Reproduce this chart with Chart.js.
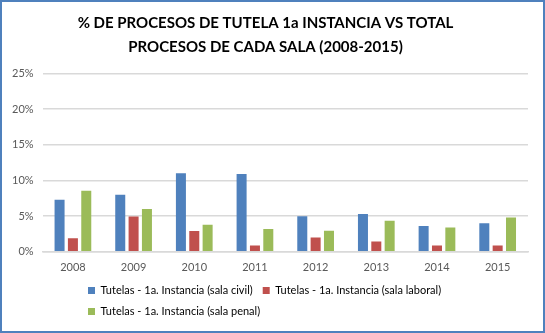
<!DOCTYPE html>
<html>
<head>
<meta charset="utf-8">
<script src="https://cdn.jsdelivr.net/npm/chart.js@4"></script>
<style>
  html, body { margin: 0; padding: 0; background: #fff; }
  #wrap { width: 545px; height: 333px; box-sizing: border-box; border: 2px solid #4F81BD; }
  canvas { display: block; }
</style>
</head>
<body>
<div id="wrap"><canvas id="chart" width="541" height="329"></canvas></div>
<script>
const years = ['2008', '2009', '2010', '2011', '2012', '2013', '2014', '2015'];
const seriesNames = [
  'Tutelas - 1a. Instancia (sala civil)',
  'Tutelas - 1a. Instancia (sala laboral)',
  'Tutelas - 1a. Instancia (sala penal)'
];
const civil = [7.3, 8.0, 11.0, 10.9, 5.0, 5.3, 3.6, 4.0];
const laboral = [1.9, 4.95, 2.9, 0.9, 2.0, 1.45, 0.9, 0.9];
const penal = [8.55, 6.0, 3.8, 3.2, 2.95, 4.35, 3.4, 4.8];
const yTicks = [0, 5, 10, 15, 20, 25];

const colors = ['#4F81BD', '#C0504D', '#9BBB59'];
const font = 'Lato, "Open Sans", sans-serif';

// keep wrapped legend rows left aligned like the original
const legendShift = {
  id: 'legendShift',
  beforeDraw(chart) {
    chart.legend.left = 76;
  }
};

new Chart(document.getElementById('chart'), {
  type: 'bar',
  data: {
    labels: years,
    datasets: [civil, laboral, penal].map((vals, i) => ({
      label: seriesNames[i],
      data: vals,
      backgroundColor: colors[i],
      categoryPercentage: 0.66,
      barPercentage: 0.75
    }))
  },
  plugins: [legendShift],
  options: {
    responsive: false,
    animation: false,
    layout: { padding: { left: 1, right: 15, top: 0, bottom: 4 } },
    plugins: {
      title: {
        display: true,
        text: ['% DE PROCESOS DE TUTELA 1a INSTANCIA VS TOTAL', 'PROCESOS DE CADA SALA (2008-2015)'],
        color: '#000',
        font: { family: font, size: 15, weight: 'bold', lineHeight: 1.55 },
        padding: { top: 10, bottom: 15 }
      },
      legend: {
        position: 'bottom',
        align: 'start',
        labels: {
          boxWidth: 7,
          boxHeight: 7,
          padding: 10,
          color: '#000',
          font: { family: font, size: 11 }
        }
      },
      tooltip: { enabled: false }
    },
    scales: {
      x: {
        grid: { display: false },
        border: { color: '#D9D9D9', width: 1.5 },
        ticks: { color: '#595959', font: { family: font, size: 11 }, padding: 1 }
      },
      y: {
        min: 0,
        max: 25,
        afterBuildTicks(axis) {
          axis.ticks = yTicks.map(v => ({ value: v }));
        },
        grid: { color: '#D9D9D9', lineWidth: 1.5, drawTicks: false },
        border: { display: false },
        ticks: {
          color: '#595959',
          font: { family: font, size: 11 },
          padding: 9,
          callback: v => v + '%'
        }
      }
    }
  }
});
</script>
</body>
</html>
